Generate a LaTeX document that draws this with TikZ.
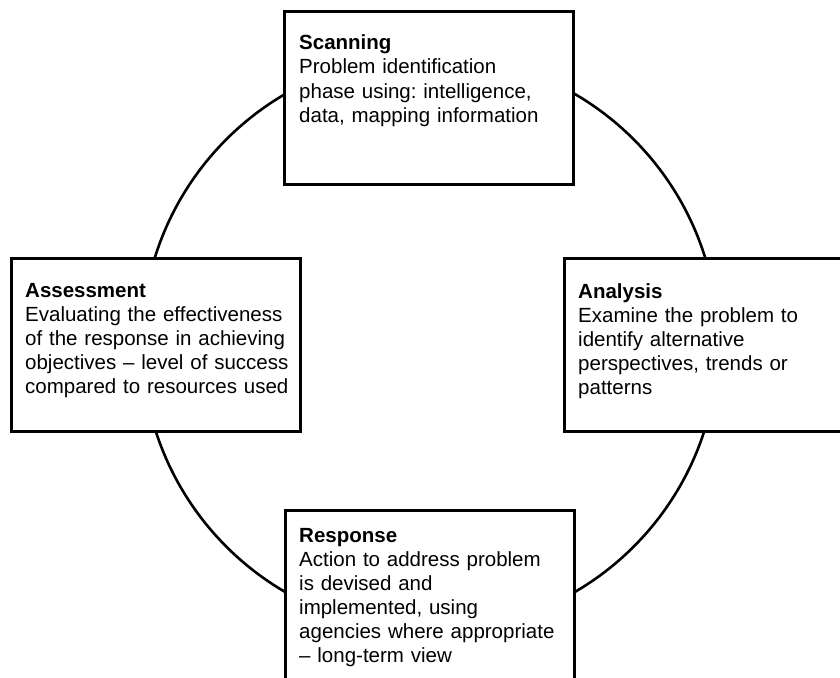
\documentclass[tikz,border=0pt]{standalone}
\usepackage{fontspec}
\setmainfont{Liberation Sans}
\frenchspacing
\begin{document}
\begin{tikzpicture}[x=1pt,y=-1pt,
  boxst/.style={draw=black,line width=2.6pt,fill=white,rectangle,inner sep=0pt},
  txt/.style={anchor=base west,inner sep=0pt,text width=300pt,align=left,
    font=\fontsize{20.5}{24}\selectfont},
  ring/.style={draw=black,line width=2.6pt}]
\useasboundingbox (0,0) rectangle (840,677);
\coordinate (c) at (430,343);
\draw[ring] (c) circle (288pt);
\begin{scope}
\clip (0,0) rectangle (840,677);
\node[boxst,minimum width=289pt,minimum height=173pt,anchor=north west] (scan) at (283,10) {};
\node[boxst,minimum width=289pt,minimum height=173pt,anchor=north west] (assess) at (10,257) {};
\node[boxst,minimum width=300pt,minimum height=173pt,anchor=north west] (anal) at (563,257) {};
\node[boxst,minimum width=289pt,minimum height=200pt,anchor=north west] (resp) at (284,509) {};
\end{scope}
\node[txt] (scant) at (299,50) {\textbf{Scanning}\\Problem identification\\phase using: intelligence,\\data, mapping information};
\node[txt] (assesst) at (25,297) {\textbf{Assessment}\\Evaluating the effectiveness\\of the response in achieving\\objectives -- level of success\\compared to resources used};
\node[txt] (analt) at (578,298) {\textbf{Analysis}\\Examine the problem to\\identify alternative\\perspectives, trends or\\patterns};
\node[txt] (respt) at (299,542) {\textbf{Response}\\Action to address problem\\is devised and\\implemented, using\\agencies where appropriate\\-- long-term view};
\end{tikzpicture}
\end{document}
